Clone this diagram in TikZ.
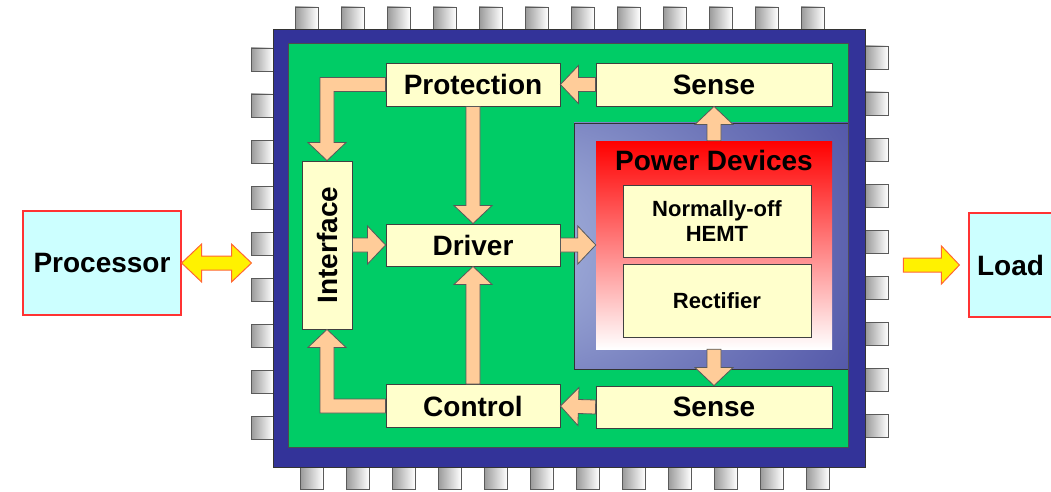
\documentclass[tikz,border=0pt]{standalone}
\usepackage{fontspec}
\setmainfont{Liberation Sans}
\usetikzlibrary{calc}
\definecolor{chipblue}{RGB}{51,51,153}
\definecolor{boardgreen}{RGB}{0,204,102}
\definecolor{blockfill}{RGB}{255,255,204}
\definecolor{peach}{RGB}{255,204,153}
\definecolor{hostcyan}{RGB}{204,255,255}
\definecolor{edgered}{RGB}{255,51,51}
\definecolor{yarrowedge}{RGB}{255,102,51}
\definecolor{pdlight}{RGB}{182,198,232}
\definecolor{pdmid}{RGB}{112,120,186}
\definecolor{pddark}{RGB}{52,52,150}
\definecolor{pinedge}{RGB}{90,90,90}
\pgfdeclareradialshading{pdglow}{\pgfpoint{-50bp}{0bp}}{color(0bp)=(pdlight); color(32bp)=(pdmid); color(62bp)=(pddark)}
\tikzset{
  block/.style={rectangle, draw=black!75, fill=blockfill, line width=0.9pt,
    inner sep=0pt, font=\bfseries\fontsize{28}{30}\selectfont},
  smallblock/.style={block, align=center, font=\bfseries\fontsize{22}{25}\selectfont},
  hostblock/.style={rectangle, draw=edgered, fill=hostcyan, line width=1.2pt,
    inner sep=0pt, font=\bfseries\fontsize{28}{30}\selectfont},
  pin/.style={draw=pinedge, line width=0.8pt, left color=black!40, right color=white},
  fatarrow/.style={draw=black!65, fill=peach, line width=0.8pt, line join=miter},
  yarrow/.style={draw=yarrowedge, fill=yellow, line width=1pt, line join=miter}
}
% fat block arrow from #2 to #3
\newcommand{\fatarr}[3][fatarrow]{%
  \coordinate (fa-h) at ($(#3)!18pt!(#2)$);
  \draw[#1] ($(#2)!7pt!90:(#3)$) -- ($(fa-h)!7pt!-90:(#2)$) -- ($(fa-h)!19pt!-90:(#2)$)
    -- (#3) -- ($(fa-h)!19pt!90:(#2)$) -- ($(fa-h)!7pt!90:(#2)$) -- ($(#2)!7pt!-90:(#3)$) -- cycle;}

\begin{document}
\begin{tikzpicture}[x=1pt, y=-1pt]
  \useasboundingbox (0,0) rectangle (1051,492);

  % Pins
  \foreach \i in {0,...,11} {
    \draw[pin] (295+46*\i,7) rectangle ++(23,23);
    \draw[pin] (300+46*\i,467) rectangle ++(23,22);
  }
  \foreach \i in {0,...,8} {
    \draw[pin] (251,48+46*\i) rectangle ++(22,23);
    \draw[pin] (865,46+46*\i) rectangle ++(23,23);
  }

  % Chip body
  \node[draw=black!80, fill=chipblue, line width=1pt, inner sep=0pt,
    minimum width=592pt, minimum height=437pt] (chip) at (569,248.5) {};
  \draw[fill=boardgreen, draw=black!70, line width=0.8pt] (288,43) rectangle (848,447);

  % Power devices area
  \shade[shading=pdglow] (574,123) rectangle (848,369);
  \draw[black!80, line width=0.8pt] (848,123) -- (574,123) -- (574,369) -- (848,369);
  \node[top color=red, bottom color=white, inner sep=0pt,
    minimum width=236pt, minimum height=208pt] (pwr) at (714,245) {};
  \node[font=\bfseries\fontsize{28}{30}\selectfont] (pdtitle) at (714,160) {Power Devices};
  \node[smallblock, minimum width=188pt, minimum height=72pt] (hemt) at (717,221) {Normally-off\\HEMT};
  \node[smallblock, minimum width=188pt, minimum height=73pt] (rect) at (717,300.5) {Rectifier};

  % Blocks
  \node[block, minimum width=174pt, minimum height=43pt] (prot) at (473,84.5) {Protection};
  \node[block, minimum width=236pt, minimum height=43pt] (senseT) at (714,84.5) {Sense};
  \node[block, minimum width=174pt, minimum height=42pt] (driver) at (473,245) {Driver};
  \node[block, minimum width=174pt, minimum height=43pt] (control) at (473,406) {Control};
  \node[block, minimum width=236pt, minimum height=42pt] (senseB) at (714,407) {Sense};
  \node[block, minimum width=50pt, minimum height=168pt] (iface) at (327,245) {};
  \node[rotate=90, font=\bfseries\fontsize{28}{30}\selectfont] at (iface) {Interface};

  % Outside blocks
  \node[hostblock, minimum width=158pt, minimum height=104pt] (proc) at (102,263) {Processor};
  \node[hostblock, minimum width=83pt, minimum height=104pt] (load) at (1010.5,265) {Load};

  % Arrows inside chip
  \fatarr{senseT.west}{prot.east}
  \fatarr{senseB.west}{control.east}
  \fatarr{prot.south}{driver.north}
  \fatarr{control.north}{driver.south}
  \fatarr{iface.east}{driver.west}
  \fatarr{driver.east}{pwr.west}
  \fatarr{pwr.north}{senseT.south}
  \fatarr{pwr.south}{senseB.north}
  \draw[fatarrow] let \p1=(prot.west), \p2=(iface.north) in
    (\x1,{\y1+7pt}) -- ({\x2-7pt},{\y1+7pt}) -- ({\x2-7pt},{\y2+18pt}) -- ({\x2-19pt},{\y2+18pt})
    -- (\x2,\y2) -- ({\x2+19pt},{\y2+18pt}) -- ({\x2+7pt},{\y2+18pt}) -- ({\x2+7pt},{\y1-7pt})
    -- (\x1,{\y1-7pt}) -- cycle;
  \draw[fatarrow] let \p1=(control.west), \p2=(iface.south) in
    (\x1,{\y1-7pt}) -- ({\x2-7pt},{\y1-7pt}) -- ({\x2-7pt},{\y2-18pt}) -- ({\x2-19pt},{\y2-18pt})
    -- (\x2,\y2) -- ({\x2+19pt},{\y2-18pt}) -- ({\x2+7pt},{\y2-18pt}) -- ({\x2+7pt},{\y1+7pt})
    -- (\x1,{\y1+7pt}) -- cycle;

  % Arrows to processor and load
  \coordinate (pintip) at ($(chip.west |- proc.east)+(-21,0)$);
  \draw[yarrow] let \p1=(proc.east), \p2=(pintip) in
    (\x1,\y1) -- ({\x1+20pt},{\y1+19pt}) -- ({\x1+20pt},{\y1+7pt}) -- ({\x2-20pt},{\y1+7pt})
    -- ({\x2-20pt},{\y1+19pt}) -- (\x2,\y1) -- ({\x2-20pt},{\y1-19pt}) -- ({\x2-20pt},{\y1-7pt})
    -- ({\x1+20pt},{\y1-7pt}) -- ({\x1+20pt},{\y1-19pt}) -- cycle;
  \coordinate (loadtip) at ($(load.west)+(-9,0)$);
  \coordinate (loadtail) at ($(load.west)+(-65,0)$);
  \fatarr[yarrow]{loadtail}{loadtip}
\end{tikzpicture}
\end{document}
